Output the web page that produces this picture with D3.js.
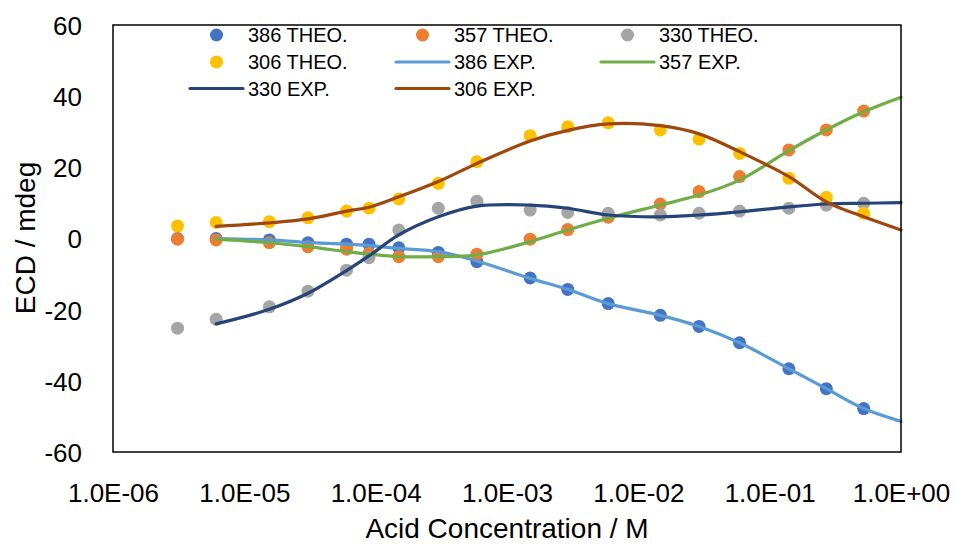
<!DOCTYPE html>
<html>
<head>
<meta charset="utf-8">
<script src="https://cdn.jsdelivr.net/npm/d3@7"></script>
<style>
  html, body { margin: 0; padding: 0; background: #fff; }
  svg { display: block; font-family: "Liberation Sans", Arial, sans-serif; }
</style>
</head>
<body>
<svg id="chart" width="956" height="544"></svg>
<script>
// ---- data ----
const conc = [3.1e-6, 6.1e-6, 1.55e-5, 3.05e-5, 6.0e-5, 8.9e-5, 1.5e-4, 3.0e-4, 5.9e-4,
              1.5e-3, 2.9e-3, 5.9e-3, 1.47e-2, 2.9e-2, 5.9e-2, 0.14, 0.27, 0.52];
const theo386 = [0, 0, -0.4, -1.2, -1.6, -1.6, -2.6, -3.9, -6.5, -11.1, -14.3, -18.3, -21.6, -24.7, -29.3, -36.6, -42.2, -47.8];
const theo357 = [-0.2, -0.4, -1.2, -2.3, -3.0, -4.2, -5.1, -5.1, -4.4, -0.2, 2.5, 6.0, 9.7, 13.2, 17.4, 24.9, 30.5, 35.8];
const theo330 = [-25.2, -22.7, -19.2, -14.8, -8.9, -5.4, 2.4, 8.5, 10.5, 8.0, 7.3, 7.1, 6.6, 7.1, 7.7, 8.5, 9.4, 9.9];
const theo306 = [3.5, 4.5, 4.7, 5.8, 7.7, 8.5, 11.1, 15.5, 21.6, 28.9, 31.4, 32.5, 30.5, 27.9, 23.9, 16.9, 11.6, 7.1];

const expConc = [6.1e-6, 1.55e-5, 3.05e-5, 6.0e-5, 8.9e-5, 1.5e-4, 3.0e-4, 5.9e-4,
                 1.5e-3, 2.9e-3, 5.9e-3, 1.47e-2, 2.9e-2, 5.9e-2, 0.14, 0.27, 0.52, 1.0];
const exp386 = [0, -0.4, -1.1, -1.6, -2.0, -2.8, -3.7, -6.3, -11.2, -14.3, -18.3, -21.6, -24.7, -29.3, -36.6, -42.2, -47.8, -51.4];
const exp357 = [-0.2, -1.2, -2.3, -3.7, -4.4, -5.1, -5.1, -4.6, -0.9, 2.4, 5.7, 9.4, 12.2, 16.4, 24.7, 30.5, 35.6, 39.7];
const exp330 = [-24.0, -19.9, -15.4, -9.0, -4.9, 1.0, 6.1, 9.1, 9.4, 8.5, 6.6, 6.1, 6.6, 7.5, 8.9, 9.7, 9.9, 10.1];
const exp306 = [3.4, 4.4, 5.5, 7.7, 8.8, 11.7, 16.0, 21.1, 27.4, 30.4, 32.2, 31.7, 29.4, 24.4, 17.4, 10.3, 6.1, 2.4];

const xTicks = [1e-6, 1e-5, 1e-4, 1e-3, 1e-2, 1e-1, 1];
const xTickLabels = ["1.0E-06", "1.0E-05", "1.0E-04", "1.0E-03", "1.0E-02", "1.0E-01", "1.0E+00"];
const yTicks = [-60, -40, -20, 0, 20, 40, 60];
const yTickLabels = ["-60", "-40", "-20", "0", "20", "40", "60"];

const seriesNames = ["386 THEO.", "357 THEO.", "330 THEO.", "306 THEO.", "386 EXP.", "357 EXP.", "330 EXP.", "306 EXP."];
const colors = ["#4472C4", "#ED7D31", "#A5A5A5", "#FFC000", "#5B9BD5", "#70AD47", "#264478", "#9E480E"];
const xTitle = "Acid Concentration / M";
const yTitle = "ECD / mdeg";

// ---- chart ----
const svg = d3.select("#chart");
const L = 113, R = 901, T = 25, B = 452;
const x = d3.scaleLog().domain([1e-6, 1]).range([L, R]);
const y = d3.scaleLinear().domain([-60, 60]).range([B, T]);

const theo = [theo386, theo357, theo330, theo306];
const exps = [exp386, exp357, exp330, exp306];

// markers
theo.forEach((vals, i) => {
  svg.append("g").selectAll("circle")
    .data(vals.map((v, k) => [conc[k], v]))
    .join("circle")
    .attr("cx", d => x(d[0]))
    .attr("cy", d => y(d[1]))
    .attr("r", 6.5)
    .attr("fill", colors[i]);
});

// lines
const line = d3.line().x(d => x(d[0])).y(d => y(d[1])).curve(d3.curveCatmullRom.alpha(0.5));
exps.forEach((vals, i) => {
  svg.append("path")
    .datum(vals.map((v, k) => [expConc[k], v]))
    .attr("d", line)
    .attr("fill", "none")
    .attr("stroke", colors[4 + i])
    .attr("stroke-width", 3.2)
    .attr("stroke-linecap", "round");
});

// plot border
svg.append("rect")
  .attr("x", L).attr("y", T).attr("width", R - L).attr("height", B - T)
  .attr("fill", "none").attr("stroke", "#000").attr("stroke-width", 1.5);

// axes (labels only, no tick marks)
const xAxis = d3.axisBottom(x).tickValues(xTicks)
  .tickFormat((d, i) => xTickLabels[i]).tickSize(0).tickPadding(0);
const gx = svg.append("g").attr("transform", `translate(0,${B})`).call(xAxis);
gx.select(".domain").remove();
gx.selectAll("text")
  .attr("y", 50).attr("dy", 0)
  .attr("font-size", 26).attr("fill", "#000")
  .attr("font-family", "Liberation Sans, Arial, sans-serif");

const yAxis = d3.axisLeft(y).tickValues(yTicks)
  .tickFormat((d, i) => yTickLabels[i]).tickSize(0).tickPadding(0);
const gy = svg.append("g").attr("transform", `translate(${L},0)`).call(yAxis);
gy.select(".domain").remove();
gy.selectAll("text")
  .attr("x", -31).attr("dy", "0.36em")
  .attr("font-size", 26).attr("fill", "#000")
  .attr("font-family", "Liberation Sans, Arial, sans-serif");

// axis titles
svg.append("text")
  .attr("x", 507).attr("y", 538)
  .attr("text-anchor", "middle")
  .attr("font-size", 28).attr("fill", "#000")
  .text(xTitle);
svg.append("text")
  .attr("transform", "translate(35,238) rotate(-90)")
  .attr("text-anchor", "middle")
  .attr("font-size", 28).attr("fill", "#000")
  .text(yTitle);

// legend
const colX = [190, 396, 601];
const rowY = [35, 62, 88.5];
const legend = svg.append("g");
seriesNames.forEach((name, i) => {
  const c = i % 3, r = Math.floor(i / 3);
  const lx = colX[c], ly = rowY[r];
  const g = legend.append("g");
  if (i < 4) {
    g.append("circle").attr("cx", lx + 26.5).attr("cy", ly).attr("r", 6.5).attr("fill", colors[i]);
  } else {
    g.append("line").attr("x1", lx).attr("x2", lx + 53).attr("y1", ly).attr("y2", ly)
      .attr("stroke", colors[i]).attr("stroke-width", 3.2).attr("stroke-linecap", "round");
  }
  g.append("text").attr("x", lx + 58).attr("y", ly).attr("dy", "0.36em")
    .attr("font-size", 20).attr("fill", "#000").text(name);
});
</script>
</body>
</html>
